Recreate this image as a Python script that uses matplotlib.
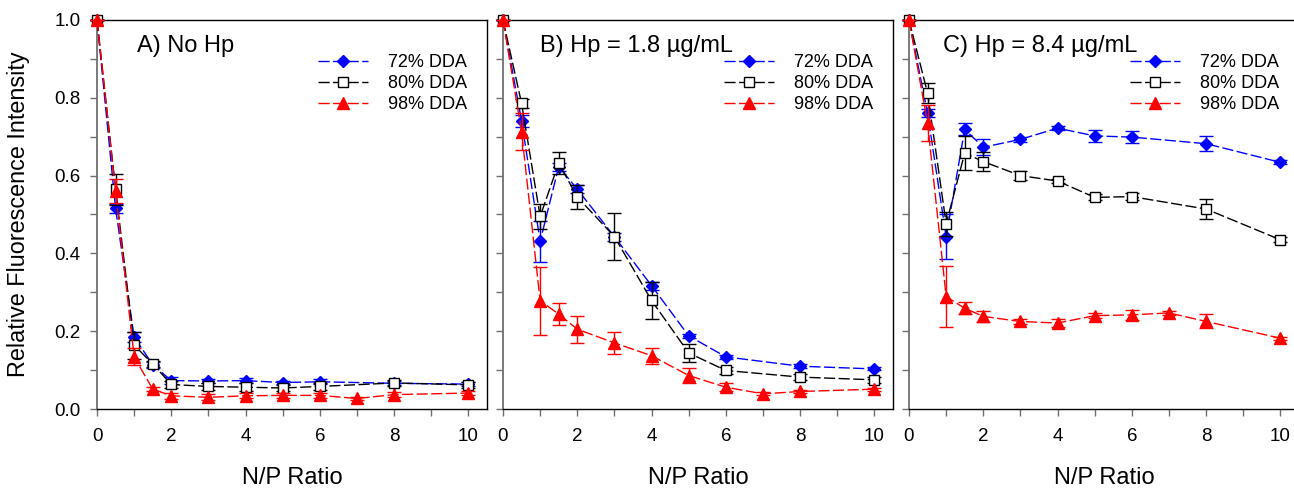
import matplotlib
matplotlib.use("Agg")
import matplotlib.pyplot as plt
from matplotlib.ticker import MultipleLocator

plt.rcParams['font.family'] = ['Liberation Sans', 'DejaVu Sans']
plt.rcParams['lines.scale_dashes'] = False

# ---------------- data ----------------
x_main = [0, 0.5, 1, 1.5, 2, 3, 4, 5, 6, 8, 10]
x_98 = [0, 0.5, 1, 1.5, 2, 3, 4, 5, 6, 7, 8, 10]

series_labels = ["72% DDA", "80% DDA", "98% DDA"]
panel_titles = ["A) No Hp", "B) Hp = 1.8 \u00b5g/mL", "C) Hp = 8.4 \u00b5g/mL"]

# Panel A: No Hp
a72 = [1.0, 0.516, 0.185, 0.114, 0.073, 0.072, 0.073, 0.068, 0.070, 0.066, 0.064]
a72_err = [0, 0.012, 0.012, 0.008, 0.008, 0.006, 0.006, 0.005, 0.006, 0.005, 0.005]
a80 = [1.0, 0.565, 0.164, 0.116, 0.063, 0.058, 0.056, 0.054, 0.058, 0.067, 0.062]
a80_err = [0, 0.040, 0.035, 0.008, 0.010, 0.010, 0.010, 0.008, 0.008, 0.008, 0.008]
a98 = [1.0, 0.560, 0.134, 0.051, 0.034, 0.030, 0.034, 0.035, 0.035, 0.027, 0.037, 0.041]
a98_err = [0, 0.030, 0.022, 0.006, 0.008, 0.008, 0.006, 0.006, 0.006, 0.004, 0.006, 0.004]

# Panel B: Hp = 1.8 ug/mL
b72 = [1.0, 0.741, 0.431, 0.623, 0.565, 0.443, 0.317, 0.188, 0.134, 0.110, 0.103]
b72_err = [0, 0.015, 0.053, 0.010, 0.010, 0.010, 0.010, 0.005, 0.005, 0.005, 0.004]
b80 = [1.0, 0.786, 0.495, 0.632, 0.545, 0.443, 0.279, 0.144, 0.099, 0.082, 0.075]
b80_err = [0, 0.012, 0.032, 0.028, 0.030, 0.060, 0.048, 0.022, 0.008, 0.008, 0.008]
b98 = [1.0, 0.713, 0.278, 0.244, 0.205, 0.170, 0.137, 0.086, 0.056, 0.039, 0.045, 0.051]
b98_err = [0, 0.047, 0.087, 0.028, 0.035, 0.028, 0.021, 0.020, 0.010, 0.004, 0.005, 0.004]

# Panel C: Hp = 8.4 ug/mL
c72 = [1.0, 0.760, 0.443, 0.719, 0.673, 0.693, 0.722, 0.702, 0.699, 0.682, 0.634]
c72_err = [0, 0.010, 0.058, 0.015, 0.020, 0.006, 0.006, 0.015, 0.015, 0.020, 0.005]
c80 = [1.0, 0.812, 0.476, 0.658, 0.636, 0.600, 0.586, 0.544, 0.546, 0.514, 0.435]
c80_err = [0, 0.025, 0.030, 0.043, 0.025, 0.012, 0.006, 0.008, 0.010, 0.025, 0.006]
c98 = [1.0, 0.735, 0.289, 0.259, 0.238, 0.225, 0.221, 0.240, 0.242, 0.247, 0.225, 0.182]
c98_err = [0, 0.047, 0.078, 0.015, 0.015, 0.006, 0.010, 0.006, 0.012, 0.006, 0.018, 0.004]

panels = [
    [(x_main, a72, a72_err), (x_main, a80, a80_err), (x_98, a98, a98_err)],
    [(x_main, b72, b72_err), (x_main, b80, b80_err), (x_98, b98, b98_err)],
    [(x_main, c72, c72_err), (x_main, c80, c80_err), (x_98, c98, c98_err)],
]

styles = [
    dict(color='#0000FF', marker='D', ms=6.2, mfc='#0000FF', mec='#0000FF', dashes=(8, 2.5)),
    dict(color='black', marker='s', ms=7.2, mfc='white', mec='black', dashes=(8, 2.5)),
    dict(color='#FF0000', marker='^', ms=8.5, mfc='#FF0000', mec='#FF0000', dashes=(8, 2.5)),
]

# ---------------- figure ----------------
W, H = 1294, 491
fig = plt.figure(figsize=(W / 100, H / 100), dpi=100)

lefts_px = [97, 503, 909]
ax_w_px, top_px, bot_px = 390, 20, 409
title_x = [0.103, 0.095, 0.087]
gray = '#707070'

for i, (lp, data) in enumerate(zip(lefts_px, panels)):
    ax = fig.add_axes([lp / W, (H - bot_px) / H, ax_w_px / W, (bot_px - top_px) / H])
    handles = []
    for k, ((xs, ys, es), st) in enumerate(zip(data, styles)):
        ax.errorbar(xs, ys, yerr=es, fmt='none', ecolor=st['color'], elinewidth=1.0,
                    capsize=5, capthick=1.0, clip_on=False, zorder=3 + 2 * k)
        ln, = ax.plot(xs, ys, color=st['color'], lw=1.0, dashes=st['dashes'],
                      marker=st['marker'], ms=st['ms'], mfc=st['mfc'], mec=st['mec'],
                      mew=1.0, clip_on=False, zorder=4 + 2 * k, label=series_labels[k])
        handles.append(ln)

    ax.set_xlim(0, 10.5)
    ax.set_ylim(0, 1.0)
    ax.xaxis.set_major_locator(MultipleLocator(2))
    ax.xaxis.set_minor_locator(MultipleLocator(1))
    ax.yaxis.set_major_locator(MultipleLocator(0.2))
    ax.yaxis.set_minor_locator(MultipleLocator(0.1))
    ax.yaxis.set_major_formatter(plt.FormatStrFormatter('%.1f'))
    ax.tick_params(which='both', direction='out', length=5, width=1.0, color=gray,
                   labelsize=13.5, top=False, right=False)
    ax.tick_params(axis='x', which='major', pad=9)
    ax.tick_params(axis='y', which='major', pad=7)
    if i > 0:
        ax.tick_params(axis='y', labelleft=False)

    ax.spines['left'].set_color(gray)
    ax.spines['left'].set_linewidth(1.3)
    ax.spines['bottom'].set_color('black')
    ax.spines['bottom'].set_linewidth(1.0)
    ax.spines['top'].set_linewidth(1.0)
    ax.spines['right'].set_linewidth(1.0)
    if i == 2:
        ax.spines['right'].set_visible(False)

    ax.set_xlabel("N/P Ratio", fontsize=17)
    ax.xaxis.set_label_coords(0.5, -0.148)
    if i == 0:
        ax.set_ylabel("Relative Fluorescence Intensity", fontsize=16.8)
        ax.yaxis.set_label_coords(-0.172, 0.5)

    ax.text(title_x[i], 0.918, panel_titles[i], transform=ax.transAxes,
            fontsize=17, ha='left', va='baseline')

    ax.legend(handles=handles, loc='upper right', bbox_to_anchor=(0.949, 0.912),
              frameon=False, fontsize=13, borderpad=0, borderaxespad=0,
              handlelength=2.8, handletextpad=1.1, labelspacing=0.22, numpoints=1)

fig.savefig("out.png", dpi=100)
